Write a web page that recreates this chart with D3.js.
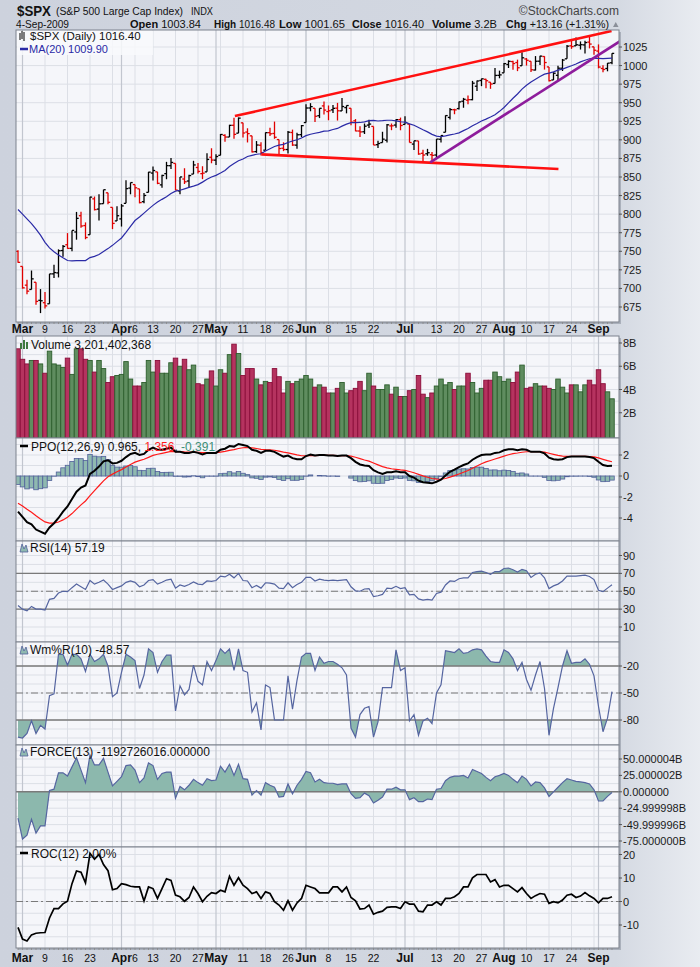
<!DOCTYPE html>
<html>
<head>
<meta charset="utf-8">
<script src="https://cdn.jsdelivr.net/npm/d3@7/dist/d3.min.js"></script>
<style>
body { margin: 0; background: #d1d6e0; }
svg text { font-family: "Liberation Sans", Arial, sans-serif; }
</style>
</head>
<body>
<script>
// trading days shown, Feb 27 .. Sep 4 2009
var dates = ["2/27",
 "3/2","3/3","3/4","3/5","3/6","3/9","3/10","3/11","3/12","3/13","3/16","3/17","3/18","3/19","3/20","3/23","3/24","3/25","3/26","3/27","3/30","3/31",
 "4/1","4/2","4/3","4/6","4/7","4/8","4/9","4/13","4/14","4/15","4/16","4/17","4/20","4/21","4/22","4/23","4/24","4/27","4/28","4/29","4/30",
 "5/1","5/4","5/5","5/6","5/7","5/8","5/11","5/12","5/13","5/14","5/15","5/18","5/19","5/20","5/21","5/22","5/26","5/27","5/28","5/29",
 "6/1","6/2","6/3","6/4","6/5","6/8","6/9","6/10","6/11","6/12","6/15","6/16","6/17","6/18","6/19","6/22","6/23","6/24","6/25","6/26","6/29","6/30",
 "7/1","7/2","7/6","7/7","7/8","7/9","7/10","7/13","7/14","7/15","7/16","7/17","7/20","7/21","7/22","7/23","7/24","7/27","7/28","7/29","7/30","7/31",
 "8/3","8/4","8/5","8/6","8/7","8/10","8/11","8/12","8/13","8/14","8/17","8/18","8/19","8/20","8/21","8/24","8/25","8/26","8/27","8/28","8/31",
 "9/1","9/2","9/3","9/4"];

var opens = [
 749.9,729.6,704.4,698.6,708.3,684.0,680.8,679.3,719.6,720.9,
 751.0,758.8,753.9,776.0,797.9,784.6,772.3,820.6,806.8,814.1,
 828.7,809.1,790.9,793.6,814.5,835.1,839.8,834.1,816.8,829.3,
 855.3,856.9,839.4,854.5,865.2,868.3,831.3,847.3,844.6,853.9,
 862.8,854.5,856.9,876.6,872.7,879.2,906.1,903.8,919.6,909.0,
 922.9,910.5,905.4,884.2,892.8,886.1,909.7,908.6,900.4,888.7,
 887.0,909.9,892.9,907.0,923.3,942.9,942.5,932.5,945.7,938.1,
 940.4,942.7,939.0,943.4,942.5,925.6,911.9,910.9,919.9,918.1,
 893.5,896.3,899.5,918.8,919.9,927.2,920.8,921.2,894.3,898.6,
 881.9,881.3,880.0,879.6,900.8,910.2,930.2,940.6,942.1,952.0,
 953.4,954.1,972.2,979.9,981.5,977.7,976.0,986.8,990.2,1001.4,
 1005.4,1004.1,999.8,1008.9,1005.8,994.0,1005.9,1012.2,998.2,980.6,
 986.9,996.4,1009.1,1026.6,1026.6,1027.4,1027.8,1031.6,1025.2,1019.5,
 996.1,996.1,1003.8];
var highs = [
 751.3,729.6,711.7,724.1,708.3,699.1,695.3,719.6,731.9,752.6,
 758.3,774.5,778.1,803.0,803.2,788.9,823.4,823.7,826.8,832.9,
 828.7,809.1,810.5,813.6,845.6,842.5,839.8,834.1,828.4,856.9,
 864.3,856.9,852.9,870.4,875.6,868.3,850.1,861.8,852.9,871.8,
 868.8,864.5,882.1,888.7,880.5,907.9,907.7,920.3,929.6,930.2,
 922.9,915.6,905.4,898.4,896.9,910.0,916.4,924.6,900.4,896.7,
 911.8,913.8,909.5,920.0,947.8,949.4,942.5,942.5,951.7,946.3,
 946.9,949.8,956.2,946.3,942.5,928.0,918.4,922.0,927.1,918.1,
 898.7,910.9,921.4,922.0,927.9,930.0,931.9,921.2,898.7,898.6,
 886.8,887.9,883.6,901.1,905.8,933.0,943.0,941.9,951.6,956.5,
 959.8,979.4,979.8,982.5,982.2,977.8,996.7,993.2,1003.6,1007.1,
 1006.6,1008.0,1018.0,1010.1,1005.8,1012.8,1013.1,1012.6,998.2,991.2,
 999.6,1008.9,1027.6,1035.8,1037.8,1032.5,1033.3,1039.5,1025.2,1028.5,
 1000.3,1003.4,1016.5];
var lows = [
 734.5,699.7,692.3,698.6,677.9,666.8,672.9,679.3,713.9,714.8,
 742.5,753.4,749.9,765.6,781.8,766.2,772.3,805.0,791.4,814.1,
 813.4,779.8,790.9,783.3,814.5,826.7,822.8,814.5,814.8,829.3,
 845.4,840.3,835.6,847.0,860.9,832.4,826.8,840.6,835.6,853.9,
 854.7,847.1,856.9,868.5,866.1,879.2,897.3,903.8,901.4,909.0,
 903.3,896.5,882.9,882.5,878.9,886.1,905.2,901.4,879.6,884.8,
 881.5,891.9,888.0,903.6,923.3,938.5,923.9,929.3,934.1,926.4,
 936.1,926.0,939.0,935.7,919.7,911.6,903.8,907.9,915.8,893.0,
 888.9,896.3,896.3,913.0,916.2,912.9,920.8,896.4,886.4,879.9,
 869.3,878.5,872.8,875.3,896.5,910.2,927.5,934.5,940.9,943.2,
 947.8,953.3,965.9,972.3,969.4,968.7,976.0,982.9,990.2,996.7,
 994.3,992.5,999.8,1000.0,991.2,993.4,1000.8,994.6,978.5,980.6,
 980.6,992.7,1009.1,1022.5,1026.2,1021.6,1016.2,1023.1,1014.6,996.3,
 991.0,992.3,1001.7];
var closes = [
 735.09,700.82,696.33,712.87,682.55,683.38,676.53,719.60,721.36,750.74,
 756.55,753.89,778.12,794.35,784.04,768.54,822.92,806.12,813.88,832.86,
 815.94,787.53,797.87,811.08,834.38,842.50,835.48,815.55,825.16,856.56,
 858.73,841.50,852.06,865.30,869.60,832.39,850.08,843.55,851.92,866.23,
 857.51,855.16,873.64,872.81,877.52,907.24,903.80,919.53,907.39,929.23,
 909.24,908.35,883.92,893.07,882.88,909.71,908.13,903.47,888.33,887.00,
 910.33,893.06,906.83,919.14,942.87,944.74,931.76,942.46,940.09,939.14,
 942.43,939.15,944.89,946.21,923.72,911.97,910.71,918.37,921.23,893.04,
 895.10,900.94,920.26,918.90,927.23,919.32,923.33,896.42,898.72,881.03,
 879.56,882.68,879.13,901.05,905.84,932.68,940.74,940.38,951.13,954.58,
 954.07,976.29,979.26,982.18,979.62,975.15,986.75,987.48,1002.63,1005.65,
 1002.72,997.08,1010.48,1007.10,994.35,1005.81,1012.73,1004.09,979.73,989.67,
 996.46,1007.37,1026.13,1025.57,1028.00,1028.12,1030.98,1028.93,1020.62,998.04,
 994.75,1003.24,1016.40];
var prevClose = 752.83;

var ma20 = [
 806.3,800.0,793.6,787.3,779.8,771.7,762.1,754.6,749.3,745.1,
 741.2,737.6,737.0,737.3,737.6,737.5,741.5,743.1,745.6,749.6,
 753.6,758.0,763.0,767.9,775.5,783.5,791.4,796.2,801.4,806.7,
 811.8,816.2,819.9,823.4,827.7,830.9,832.2,834.1,836.0,837.7,
 839.8,843.1,846.9,850.0,852.2,855.4,858.8,864.0,868.1,871.8,
 874.3,877.6,879.2,880.6,881.3,885.1,888.0,891.0,892.8,893.9,
 896.5,898.4,900.1,902.4,905.7,907.5,908.9,910.1,911.7,912.2,
 913.9,915.4,918.5,921.1,923.2,923.3,923.4,924.2,925.8,926.1,
 925.4,925.8,926.4,926.4,925.6,924.4,923.9,921.6,919.6,916.7,
 913.5,910.7,907.4,905.1,904.2,905.3,906.8,907.9,909.4,912.4,
 915.4,919.1,922.1,925.3,927.9,930.7,933.8,938.4,943.6,949.8,
 956.0,961.7,968.3,973.6,978.0,981.7,985.3,988.4,989.9,991.6,
 993.8,995.3,997.6,999.8,1002.2,1004.9,1007.1,1009.2,1010.1,1009.7,
 1009.3,1009.6,1009.9];

// volume in billions
var volumes = [
 7.5,6.6,6.2,6.5,6.5,6.2,5.4,7.3,6.2,6.1,
 5.9,6.7,5.3,7.5,7.5,6.6,6.5,5.5,6.5,5.8,
 4.6,5.1,5.2,5.3,6.4,4.9,4.3,4.3,4.6,6.5,
 5.5,6.5,5.4,5.4,6.3,6.7,6.0,6.6,5.7,6.1,
 4.5,4.4,4.9,5.6,4.3,5.7,5.4,7.0,7.9,7.1,
 5.2,5.8,5.8,4.9,4.4,4.7,4.6,5.8,5.1,3.7,
 4.7,4.5,4.7,4.9,5.2,4.9,4.2,4.4,4.2,3.7,
 3.7,4.1,4.6,3.7,3.9,4.1,4.7,3.9,5.4,4.3,
 4.0,4.0,4.4,3.6,4.2,3.4,3.4,3.9,4.0,5.2,
 3.6,3.3,3.7,4.3,4.9,4.4,4.6,4.0,4.3,4.3,
 5.4,4.6,3.7,4.1,4.8,4.8,5.5,5.1,4.7,4.9,
 4.6,5.5,6.1,4.1,4.2,4.5,4.3,4.3,4.1,4.0,
 4.9,4.2,3.7,4.4,4.4,3.8,4.4,4.8,4.4,5.7,
 4.5,3.8,3.2];

var ppo = [
 -3.4,-3.9,-4.4,-4.6,-5.1,-5.3,-5.5,-4.9,-4.5,-4.0,
 -3.4,-2.9,-2.2,-1.5,-1.1,-0.9,0.2,0.5,0.9,1.4,
 1.5,1.2,1.25,1.45,1.8,2.1,2.2,2.0,2.1,2.5,
 2.7,2.5,2.5,2.6,2.7,2.3,2.3,2.2,2.2,2.3,
 2.2,2.05,2.2,2.2,2.2,2.5,2.6,2.85,2.8,3.05,
 2.95,2.85,2.5,2.4,2.2,2.4,2.4,2.3,2.05,1.85,
 1.95,1.7,1.6,1.6,1.9,2.05,1.95,2.0,2.0,1.95,
 1.95,1.9,1.95,1.95,1.7,1.35,1.1,1.0,0.95,0.55,
 0.35,0.2,0.35,0.35,0.45,0.35,0.35,0.0,-0.15,-0.45,
 -0.6,-0.65,-0.7,-0.55,-0.35,0.05,0.4,0.6,0.85,1.05,
 1.2,1.55,1.8,2.0,2.05,2.05,2.2,2.25,2.45,2.55,
 2.55,2.45,2.55,2.5,2.3,2.3,2.3,2.15,1.75,1.6,
 1.55,1.6,1.8,1.85,1.85,1.85,1.85,1.8,1.7,1.35,
 1.05,0.95,0.965];
var ppoSignal = [
 -2.6,-2.86,-3.17,-3.46,-3.79,-4.09,-4.37,-4.48,-4.48,-4.38,
 -4.18,-3.92,-3.58,-3.16,-2.75,-2.38,-1.86,-1.39,-0.93,-0.47,
 -0.07,0.18,0.40,0.61,0.85,1.10,1.32,1.46,1.59,1.77,
 1.96,2.07,2.16,2.25,2.34,2.33,2.33,2.30,2.28,2.28,
 2.26,2.22,2.22,2.22,2.22,2.28,2.34,2.44,2.51,2.62,
 2.69,2.72,2.68,2.62,2.54,2.51,2.49,2.45,2.37,2.27,
 2.21,2.11,2.01,1.93,1.92,1.95,1.95,1.96,1.97,1.97,
 1.96,1.95,1.95,1.95,1.90,1.79,1.65,1.52,1.41,1.24,
 1.06,0.89,0.78,0.69,0.64,0.58,0.54,0.43,0.31,0.16,
 0.01,-0.12,-0.24,-0.30,-0.31,-0.24,-0.11,0.03,0.19,0.36,
 0.53,0.73,0.95,1.16,1.34,1.48,1.62,1.75,1.89,2.02,
 2.13,2.19,2.26,2.31,2.31,2.31,2.31,2.28,2.17,2.06,
 1.96,1.89,1.87,1.87,1.87,1.86,1.86,1.85,1.82,1.73,
 1.59,1.46,1.356];
var ppoHist = [
 -0.8,-1.04,-1.23,-1.14,-1.31,-1.21,-1.13,-0.42,-0.02,0.38,
 0.78,1.02,1.38,1.66,1.65,1.48,2.06,1.89,1.83,1.87,
 1.57,1.02,0.85,0.84,0.95,1.0,0.88,0.54,0.51,0.73,
 0.74,0.43,0.34,0.35,0.36,-0.03,-0.03,-0.1,-0.08,0.02,
 -0.06,-0.17,-0.02,-0.02,-0.02,0.22,0.26,0.41,0.29,0.43,
 0.26,0.13,-0.18,-0.22,-0.34,-0.11,-0.09,-0.15,-0.32,-0.42,
 -0.26,-0.41,-0.41,-0.33,-0.02,0.1,0,0.04,0.03,-0.02,
 -0.01,-0.05,0,0,-0.2,-0.44,-0.55,-0.52,-0.46,-0.69,
 -0.71,-0.69,-0.43,-0.34,-0.19,-0.23,-0.19,-0.43,-0.46,-0.61,
 -0.61,-0.53,-0.46,-0.25,-0.04,0.29,0.51,0.57,0.66,0.69,
 0.67,0.82,0.85,0.84,0.71,0.57,0.58,0.5,0.56,0.53,
 0.42,0.26,0.29,0.19,-0.01,-0.01,-0.01,-0.13,-0.42,-0.46,
 -0.41,-0.29,-0.07,-0.02,-0.02,-0.01,-0.01,-0.05,-0.12,-0.38,
 -0.54,-0.51,-0.391];

var rsi = [
 34,30,28,33,30,30,29,41,42,48,
 50,49.5,54,58,55,52,62,58,60,62.5,
 58,52,54,56,60,61.5,60,55,57,62,
 63,58,60,62.5,63.5,53.5,57,55.5,57.5,60.5,
 58,57.5,61.5,61,62,67,66,69,65,70,
 62,61.5,54,56.5,53.5,59.5,59,58,53.5,53,
 59.5,54,57.5,60,65.5,65.5,61.5,63.5,62.5,62,
 62.5,62,62.5,63,55,50.5,50,52.5,53,44,
 45,46.5,53.5,53,55.5,53,54,46,46.5,41.5,
 40,41,40,47.5,49,57,61.5,61,64,65,
 65,71,72,72.5,71,69,72,72,75.5,76,
 74,71.5,74.5,73,65.5,69,70.5,65,53,56,
 58,61.5,67,67,67,67.5,68,66.5,63,51,
 49.5,53.5,57.19];

var willR = [
 -99,-100,-95,-81,-95,-86,-90,-53,-51,-7,
 -7,-19,-7,-7,-12,-26,-7,-15,-12,-7,
 -20,-54,-50,-27,-7,-10,-14,-45,-30,-1,
 -5,-27,-15,-8,-8,-70,-42,-52,-46,-19,
 -37,-41,-15,-25,-14,-1,-6,-1,-25,-1,
 -25,-27,-71,-61,-91,-41,-44,-80,-80,-80,
 -31,-68,-36,-10,-6,-6,-25,-10,-17,-15,
 -15,-18,-22,-30,-89,-99,-74,-67,-65,-99,
 -82,-44,-44,-44,-2,-25,-22,-81,-74,-97,
 -81,-78,-84,-50,-41,-3,-4,-5,-1,-6,
 -5,-2,-1,-2,-9,-15,-16,-16,-2,-5,
 -12,-25,-16,-35,-47,-30,-15,-45,-97,-67,
 -44,-20,-3,-17,-16,-16,-12,-18,-31,-65,
 -93,-78,-48.57];

// force index in billions
var force = [
 -40,-72,-66,-42,-63,-52,-52,2,4,29,
 29,24,38,52,33,14,56,41,41,51,
 30,9,16,23,40,41,33,14,21,44,
 40,19,28,30,30,-10,8,3,10,19,
 14,10,20,17,18,39,30,42,25,42,
 20,19,-5,2,-5,14,10,7,-8,-7,
 12,-3,10,19,31,29,15,19,14,13,
 13,11,12,12,-3,-10,-9,-2,-6,-17,
 -13,-8,4,4,7,3,3,-12,-9,-15,
 -15,-11,-12,4,5,17,22,24,24,25,
 21,34,31,28,22,17,23,25,28,25,
 19,14,24,19,9,15,14,6,-7,0,
 7,14,20,18,16,15,14,12,3,-14,
 -14,-7,-1.19];

var roc = [
 -11,-16,-16.8,-14.2,-13.5,-13.3,-13.2,-7,-3,-3,
 -1,0.1,7.6,13,12.5,7.9,20.5,18,20,15.7,
 13.1,5,5.5,7.6,7.2,6.5,6.2,6.2,0.2,6.2,
 5.5,1.3,5.5,9.7,9,2.7,2,0.1,1.7,6.2,
 3.4,-0.1,2.2,3.8,3.4,4.8,4.1,10.7,6.9,10.1,
 6.9,5.5,3.4,4.1,1.3,4.1,3.4,-0.1,-1.5,-3.7,
 0.3,-3.7,-0.6,1.3,6.9,6.2,5.5,3.7,3.7,3.7,
 6.2,6.2,4.1,6.2,1.7,0.3,-3.2,-3,-1.5,-5.4,
 -4.6,-4.1,-2.5,-2.3,-2.3,-3,-0.1,-1.1,-1.1,-4.1,
 -4.4,-1.5,-1.5,-0.1,-1.5,1.3,1.3,2,3.4,6.2,
 6.2,10.1,11.5,11.5,11.5,8.3,9.3,6.2,6.9,6.9,
 5.5,4.1,5.9,3.4,1.3,2.5,3.4,3.1,-0.8,-0.1,
 -0.6,0.6,2.7,3.1,1.7,2.3,3.8,2.4,1.3,-0.6,
 1.3,1.3,2.0];

// hand drawn trend lines: [bar index, price]
var trendUpper = [[48.2, 932], [131.9, 1046.5]];
var trendLower = [[54.1, 880.5], [120.1, 860.7]];
var trendRising = [[91.6, 869.8], [134.2, 1034.4]];

var monthTicks = ["3/2","4/1","5/1","6/1","7/1","8/3","9/1"];
var monthNames = ["Mar","Apr","May","Jun","Jul","Aug","Sep"];
var weekTicks = ["3/9","3/16","3/23","4/6","4/13","4/20","4/27","5/11","5/18","5/26","6/8","6/15","6/22","7/13","7/20","7/27","8/10","8/17","8/24"];

var priceTicks = d3.range(675, 1026, 25);
var volTicks = [2, 4, 6, 8];
var ppoTicks = [2, 0, -2, -4];
var rsiTicks = [90, 70, 50, 30, 10];
var willTicks = [-20, -50, -80];
var forceTicks = [50, 25, 0, -25, -50, -75];
var forceLabels = ["50.000004B","25.000002B","0.000000","-24.999998B","-49.999996B","-75.000000B"];
var rocTicks = [20, 10, 0, -10];

var width = 700, height = 967;
var L = 16, R = 619;

var svg = d3.select("body").append("svg")
    .attr("width", width)
    .attr("height", height);

var defs = svg.append("defs");
var bgGrad = defs.append("linearGradient").attr("id", "bgGrad").attr("x1", 0).attr("x2", 1).attr("y1", 0).attr("y2", 0);
bgGrad.append("stop").attr("offset", "0%").attr("stop-color", "#cdd2dd");
bgGrad.append("stop").attr("offset", "88%").attr("stop-color", "#d4d9e2");
bgGrad.append("stop").attr("offset", "100%").attr("stop-color", "#e9ecf1");
svg.append("rect").attr("width", width).attr("height", height).attr("fill", "url(#bgGrad)");

var x = d3.scaleLinear().domain([0, dates.length - 1]).range([18, 612]);
var idx = d3.range(dates.length);

var dayOf = dates.map(function(s){ var p = s.split("/"); return new Date(2009, +p[0] - 1, +p[1]); });
var weekStarts = idx.filter(function(i){
    return i > 0 && (dayOf[i].getDay() < dayOf[i-1].getDay() || (dayOf[i] - dayOf[i-1]) > 3 * 864e5);
});
var monthIdx = monthTicks.map(function(s){ return dates.indexOf(s); });

var panels = {
    main:  {t: 30,  b: 322},
    vol:   {t: 336, b: 438},
    ppo:   {t: 438, b: 541},
    rsi:   {t: 541, b: 642},
    wmr:   {t: 642, b: 745},
    force: {t: 745, b: 847},
    roc:   {t: 847, b: 948}
};

// shadows
svg.append("rect").attr("x", L + 2).attr("y", 32).attr("width", R - L).attr("height", 292).attr("fill", "#aab0bb");
svg.append("rect").attr("x", L + 2).attr("y", 338).attr("width", R - L).attr("height", 612).attr("fill", "#aab0bb");

function frame(name, y, gridVals) {
    var p = panels[name];
    var g = svg.append("g");
    g.append("rect").attr("x", L).attr("y", p.t).attr("width", R - L).attr("height", p.b - p.t).attr("fill", "#f5f6fa");
    defs.append("clipPath").attr("id", "clip-" + name)
        .append("rect").attr("x", L).attr("y", p.t).attr("width", R - L).attr("height", p.b - p.t);
    g.selectAll(".hg").data(gridVals.filter(function(v){ var yy = y(v); return yy > p.t && yy < p.b; }))
        .enter().append("line")
        .attr("x1", L).attr("x2", R).attr("y1", y).attr("y2", y)
        .attr("stroke", "#dcdfe6").attr("stroke-width", 1);
    g.selectAll(".wg").data(weekStarts).enter().append("line")
        .attr("x1", function(i){ return x(i); }).attr("x2", function(i){ return x(i); })
        .attr("y1", p.t).attr("y2", p.b)
        .attr("stroke", "#dcdfe6").attr("stroke-width", 1);
    g.selectAll(".mg").data(monthIdx).enter().append("line")
        .attr("x1", function(i){ return x(i); }).attr("x2", function(i){ return x(i); })
        .attr("y1", p.t).attr("y2", p.b)
        .attr("stroke", "#c2c6cf").attr("stroke-width", 1.2);
    return g.append("g").attr("clip-path", "url(#clip-" + name + ")");
}

function border(name) {
    var p = panels[name];
    svg.append("rect").attr("x", L).attr("y", p.t).attr("width", R - L).attr("height", p.b - p.t)
        .attr("fill", "none").attr("stroke", "#7d828d").attr("stroke-width", 1);
}

function yLabels(vals, labels, y) {
    vals.forEach(function(v, k){
        svg.append("line").attr("x1", R).attr("x2", R + 3).attr("y1", y(v)).attr("y2", y(v)).attr("stroke", "#555");
        svg.append("text").attr("x", 623).attr("y", y(v) + 4)
            .attr("font-size", "11px").attr("fill", "#1a1a1a")
            .text(labels ? labels[k] : v);
    });
}

function hLine(g, y, v, dash, color) {
    g.append("line").attr("x1", L).attr("x2", R).attr("y1", y(v)).attr("y2", y(v))
        .attr("stroke", color || "#7a7a7a").attr("stroke-width", dash ? 1 : 1.4)
        .attr("stroke-dasharray", dash ? "7,3,2,3" : null);
}

// ---------- main price panel ----------
var yP = d3.scaleLinear().domain([675, 1025]).range([307, 47]);
var gP = frame("main", yP, priceTicks);

var up = closes.map(function(c, i){ return c >= (i === 0 ? prevClose : closes[i-1]); });

var bars = gP.selectAll(".bar").data(idx).enter().append("g")
    .attr("stroke", function(i){ return up[i] ? "#000" : "#e00000"; })
    .attr("stroke-width", 1.3);
bars.append("line").attr("x1", function(i){ return x(i); }).attr("x2", function(i){ return x(i); })
    .attr("y1", function(i){ return yP(highs[i]); }).attr("y2", function(i){ return yP(lows[i]); });
bars.append("line").attr("x1", function(i){ return x(i) - 2.2; }).attr("x2", function(i){ return x(i); })
    .attr("y1", function(i){ return yP(opens[i]); }).attr("y2", function(i){ return yP(opens[i]); });
bars.append("line").attr("x1", function(i){ return x(i); }).attr("x2", function(i){ return x(i) + 2.2; })
    .attr("y1", function(i){ return yP(closes[i]); }).attr("y2", function(i){ return yP(closes[i]); });

gP.append("path").datum(idx)
    .attr("d", d3.line().x(function(i){ return x(i); }).y(function(i){ return yP(ma20[i]); }))
    .attr("fill", "none").attr("stroke", "#2a2aa6").attr("stroke-width", 1.2);

function trend(pts, color) {
    gP.append("path").datum(pts)
        .attr("d", d3.line().x(function(d){ return x(d[0]); }).y(function(d){ return yP(d[1]); }))
        .attr("fill", "none").attr("stroke", color).attr("stroke-width", 2.6);
}
trend(trendUpper, "#ff1010");
trend(trendLower, "#ff1010");
trend(trendRising, "#8e1c9c");

border("main");
yLabels(priceTicks, null, yP);

// legend main
svg.append("rect").attr("x", 17).attr("y", 31).attr("width", 136).attr("height", 24).attr("fill", "#f8f9fc").attr("opacity", 0.85);
var icon = svg.append("g").attr("stroke", "#000").attr("stroke-width", 1);
icon.append("line").attr("x1", 20).attr("x2", 20).attr("y1", 33).attr("y2", 40);
icon.append("line").attr("x1", 24).attr("x2", 24).attr("y1", 32).attr("y2", 41);
icon.append("line").attr("x1", 22).attr("x2", 22).attr("y1", 31).attr("y2", 39);
svg.append("text").attr("x", 30).attr("y", 40).attr("font-size", "11.5px").attr("fill", "#111").text("$SPX (Daily) 1016.40");
svg.append("line").attr("x1", 20).attr("x2", 28).attr("y1", 49).attr("y2", 49).attr("stroke", "#2a2aa6").attr("stroke-width", 2.5);
svg.append("text").attr("x", 29).attr("y", 53).attr("font-size", "11px").attr("fill", "#2a2aa6").text("MA(20) 1009.90");

// x axis labels
function xLabels(yBase) {
    monthIdx.forEach(function(i, k){
        svg.append("text").attr("x", x(i)).attr("y", yBase).attr("text-anchor", "middle")
            .attr("font-size", "12px").attr("font-weight", "bold").attr("fill", "#111").text(monthNames[k]);
    });
    weekTicks.forEach(function(s){
        var i = dates.indexOf(s);
        svg.append("text").attr("x", x(i)).attr("y", yBase).attr("text-anchor", "middle")
            .attr("font-size", "10.5px").attr("fill", "#111").text(s.split("/")[1]);
    });
}
function dayTicks(yy) {
    svg.selectAll(null).data(idx).enter().append("line")
        .attr("x1", function(i){ return x(i); }).attr("x2", function(i){ return x(i); })
        .attr("y1", yy).attr("y2", yy + 2).attr("stroke", "#888").attr("stroke-width", 0.8);
}
dayTicks(322);
xLabels(333);

// ---------- volume ----------
var yV = d3.scaleLinear().domain([0, 8]).range([436, 343]);
var gV = frame("vol", yV, [1, 2, 3, 4, 5, 6, 7, 8]);
gV.selectAll(".v").data(idx).enter().append("rect")
    .attr("x", function(i){ return x(i) - 2.25; }).attr("width", 4.5)
    .attr("y", function(i){ return yV(volumes[i]); })
    .attr("height", function(i){ return yV(0) - yV(volumes[i]) + 4; })
    .attr("fill", function(i){ return up[i] ? "#5f8d5f" : "#b5335f"; })
    .attr("stroke", function(i){ return up[i] ? "#2d5e2d" : "#8a0d39"; })
    .attr("stroke-width", 0.9);
border("vol");
yLabels(volTicks, volTicks.map(function(v){ return v + "B"; }), yV);
var vi = svg.append("g").attr("fill", "#3f7a3f");
vi.append("rect").attr("x", 20).attr("y", 343).attr("width", 2).attr("height", 6);
vi.append("rect").attr("x", 23).attr("y", 340).attr("width", 2).attr("height", 9);
vi.append("rect").attr("x", 26).attr("y", 342).attr("width", 2).attr("height", 7);
svg.append("text").attr("x", 31).attr("y", 349).attr("font-size", "12px").attr("fill", "#111").text("Volume 3,201,402,368");

// ---------- PPO ----------
var yO = d3.scaleLinear().domain([0, 2]).range([476, 455]);
var gO = frame("ppo", yO, d3.range(-6, 4, 1));
gO.selectAll(".h").data(idx).enter().append("rect")
    .attr("x", function(i){ return x(i) - 2.25; }).attr("width", 4.5)
    .attr("y", function(i){ return Math.min(yO(ppoHist[i]), yO(0)); })
    .attr("height", function(i){ return Math.abs(yO(ppoHist[i]) - yO(0)); })
    .attr("fill", "#8fb9b0").attr("stroke", "#50609a").attr("stroke-width", 0.8);
gO.append("path").datum(idx)
    .attr("d", d3.line().x(function(i){ return x(i); }).y(function(i){ return yO(ppoSignal[i]); }))
    .attr("fill", "none").attr("stroke", "#ff1a1a").attr("stroke-width", 1.2);
gO.append("path").datum(idx)
    .attr("d", d3.line().x(function(i){ return x(i); }).y(function(i){ return yO(ppo[i]); }))
    .attr("fill", "none").attr("stroke", "#000").attr("stroke-width", 2);
border("ppo");
yLabels(ppoTicks, null, yO);
svg.append("line").attr("x1", 20).attr("x2", 28).attr("y1", 446).attr("y2", 446).attr("stroke", "#000").attr("stroke-width", 2.5);
var pt = svg.append("text").attr("x", 31).attr("y", 451).attr("font-size", "12px").attr("fill", "#111");
pt.append("tspan").text("PPO(12,26,9) 0.965, ");
pt.append("tspan").attr("fill", "#ff1a1a").text("1.356");
pt.append("tspan").text(", ");
pt.append("tspan").attr("fill", "#3e8f78").text("-0.391");

// helper for filled oscillators
function mountIcon(yTop) {
    svg.append("path").attr("d", "M20," + (yTop + 9) + " L22," + (yTop + 1) + " L24," + (yTop + 6) + " L26," + (yTop + 2) + " L28," + (yTop + 9) + " Z")
        .attr("fill", "#8fb9b0").attr("stroke", "#50609a").attr("stroke-width", 0.8);
}
function bandFill(g, name, y, vals, level, above) {
    var p = panels[name];
    var id = "band-" + name + "-" + (above ? "a" : "b");
    defs.append("clipPath").attr("id", id).append("rect")
        .attr("x", L).attr("width", R - L)
        .attr("y", above ? p.t : y(level))
        .attr("height", above ? y(level) - p.t : p.b - y(level));
    g.append("path").datum(idx)
        .attr("clip-path", "url(#" + id + ")")
        .attr("d", d3.area().x(function(i){ return x(i); }).y0(y(level)).y1(function(i){ return y(vals[i]); }))
        .attr("fill", "#8cb8ad");
}

// ---------- RSI ----------
var yR = d3.scaleLinear().domain([10, 90]).range([627, 555.5]);
var gR = frame("rsi", yR, d3.range(0, 101, 10));
bandFill(gR, "rsi", yR, rsi, 70, true);
bandFill(gR, "rsi", yR, rsi, 30, false);
hLine(gR, yR, 70);
hLine(gR, yR, 30);
hLine(gR, yR, 50, true);
gR.append("path").datum(idx)
    .attr("d", d3.line().x(function(i){ return x(i); }).y(function(i){ return yR(rsi[i]); }))
    .attr("fill", "none").attr("stroke", "#5565a0").attr("stroke-width", 1.2);
border("rsi");
yLabels(rsiTicks, null, yR);
mountIcon(543);
svg.append("text").attr("x", 30).attr("y", 552).attr("font-size", "12px").attr("fill", "#111").text("RSI(14) 57.19");

// ---------- Williams %R ----------
var yW = d3.scaleLinear().domain([-80, -20]).range([720, 666]);
var gW = frame("wmr", yW, d3.range(-100, 1, 10));
bandFill(gW, "wmr", yW, willR, -20, true);
bandFill(gW, "wmr", yW, willR, -80, false);
hLine(gW, yW, -20);
hLine(gW, yW, -80);
hLine(gW, yW, -50, true);
gW.append("path").datum(idx)
    .attr("d", d3.line().x(function(i){ return x(i); }).y(function(i){ return yW(willR[i]); }))
    .attr("fill", "none").attr("stroke", "#5565a0").attr("stroke-width", 1.2);
border("wmr");
yLabels(willTicks, null, yW);
mountIcon(645);
svg.append("text").attr("x", 30).attr("y", 654).attr("font-size", "12px").attr("fill", "#111").text("Wm%R(10) -48.57");

// ---------- Force index ----------
var yF = d3.scaleLinear().domain([-75, 50]).range([841, 759]);
var gF = frame("force", yF, d3.range(-87.5, 63, 12.5));
gF.append("path").datum(idx)
    .attr("d", d3.area().x(function(i){ return x(i); }).y0(yF(0)).y1(function(i){ return yF(force[i]); }))
    .attr("fill", "#8cb8ad");
hLine(gF, yF, 0);
gF.append("path").datum(idx)
    .attr("d", d3.line().x(function(i){ return x(i); }).y(function(i){ return yF(force[i]); }))
    .attr("fill", "none").attr("stroke", "#5565a0").attr("stroke-width", 1.2);
border("force");
yLabels(forceTicks, forceLabels, yF);
mountIcon(747);
svg.append("text").attr("x", 30).attr("y", 756).attr("font-size", "12px").attr("fill", "#111").text("FORCE(13) -1192726016.000000");

// ---------- ROC ----------
var yC = d3.scaleLinear().domain([-10, 20]).range([925, 854.5]);
var gC = frame("roc", yC, d3.range(-20, 26, 5));
hLine(gC, yC, 0, true);
gC.append("path").datum(idx)
    .attr("d", d3.line().x(function(i){ return x(i); }).y(function(i){ return yC(roc[i]); }))
    .attr("fill", "none").attr("stroke", "#000").attr("stroke-width", 1.7);
border("roc");
yLabels(rocTicks, null, yC);
svg.append("line").attr("x1", 20).attr("x2", 28).attr("y1", 853).attr("y2", 853).attr("stroke", "#000").attr("stroke-width", 2.5);
svg.append("text").attr("x", 31).attr("y", 858).attr("font-size", "12px").attr("fill", "#111").text("ROC(12) 2.00%");
dayTicks(948);
xLabels(962);

// ---------- header ----------
svg.append("text").attr("x", 17).attr("y", 16).attr("font-size", "14px").attr("font-weight", "bold")
    .attr("fill", "#111").attr("textLength", 34).attr("lengthAdjust", "spacingAndGlyphs").text("$SPX");
svg.append("text").attr("x", 56).attr("y", 15).attr("font-size", "10px").attr("fill", "#111")
    .attr("textLength", 127).attr("lengthAdjust", "spacingAndGlyphs").text("(S&P 500 Large Cap Index)");
svg.append("text").attr("x", 191).attr("y", 15).attr("font-size", "10px").attr("fill", "#111")
    .attr("textLength", 22).attr("lengthAdjust", "spacingAndGlyphs").text("INDX");
svg.append("text").attr("x", 619).attr("y", 15).attr("font-size", "12px").attr("fill", "#444")
    .attr("text-anchor", "end").text("\u00a9StockCharts.com");
svg.append("text").attr("x", 16).attr("y", 28).attr("font-size", "10.5px").attr("fill", "#111")
    .attr("textLength", 53).attr("lengthAdjust", "spacingAndGlyphs").text("4-Sep-2009");

// quote line: label, value, x start, width
var quote = [["Open", "1003.84", 130, 71], ["High", "1016.48", 214, 61], ["Low", "1001.65", 279, 66],
             ["Close", "1016.40", 352, 72], ["Volume", "3.2B", 432, 65], ["Chg", "+13.16 (+1.31%)", 506, 103]];
quote.forEach(function(q){
    var t = svg.append("text").attr("x", q[2]).attr("y", 28).attr("font-size", "10.5px").attr("fill", "#111")
        .attr("textLength", q[3]).attr("lengthAdjust", "spacingAndGlyphs");
    t.append("tspan").attr("font-weight", "bold").text(q[0]);
    t.append("tspan").text(" " + q[1]);
});
svg.append("path").attr("d", "M613,27 L618.5,27 L615.75,22 Z").attr("fill", "#8a8f99");
</script>
</body>
</html>
